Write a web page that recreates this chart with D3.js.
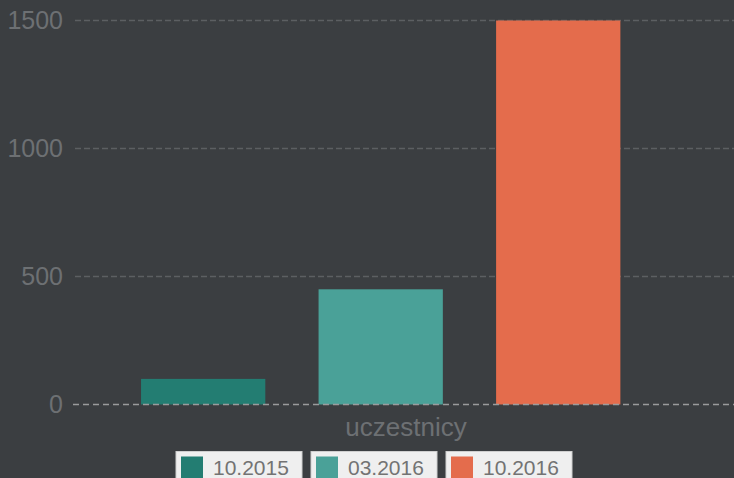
<!DOCTYPE html>
<html><head><meta charset="utf-8">
<script src="https://cdn.jsdelivr.net/npm/d3@7"></script>
<style>html,body{margin:0;padding:0;background:#3b3e41;overflow:hidden}</style>
</head><body>
<svg id="c" width="734" height="478"></svg>
<script>
const category = "uczestnicy";
const series = ["10.2015", "03.2016", "10.2016"];
const values = [100, 450, 1500];
const colors = ["#237d72", "#4aa198", "#e46c4c"];
const yTicks = [0, 500, 1000, 1500];

const svg = d3.select("#c");
svg.append("rect").attr("width", 734).attr("height", 478).attr("fill", "#3b3e41");

const y = d3.scaleLinear().domain([0, 1500]).range([404.5, 20.5]);
const x = d3.scaleBand().domain(series).range([114.4, 647]).paddingInner(0.3).paddingOuter(0.15);

// grid
const grid = svg.append("g");
yTicks.filter(d => d !== 0).forEach(t => {
  grid.append("line").attr("x1", 75).attr("x2", 734).attr("y1", y(t)).attr("y2", y(t))
    .attr("stroke", "#5c5f62").attr("stroke-width", 1.3).attr("stroke-dasharray", "6,3");
});

// y axis labels via d3 axis
const yAxis = svg.append("g").attr("transform", "translate(63,0)")
  .call(d3.axisLeft(y).tickValues(yTicks).tickSize(0).tickPadding(0).tickFormat(d3.format("d")));
yAxis.select(".domain").remove();
yAxis.selectAll("text").attr("fill", "#6d7073").attr("font-family", "Liberation Sans, Arial, sans-serif")
  .attr("font-size", 25).attr("dy", "0.32em").attr("text-anchor", "end");

// bars
svg.append("g").selectAll("rect").data(series).join("rect")
  .attr("x", d => x(d)).attr("width", x.bandwidth())
  .attr("y", (d, i) => y(values[i])).attr("height", (d, i) => y(0) - y(values[i]))
  .attr("fill", (d, i) => colors[i]);

// zero line
svg.append("line").attr("x1", 73).attr("x2", 734).attr("y1", y(0)).attr("y2", y(0))
  .attr("stroke", "#9a9b9c").attr("stroke-width", 1.5).attr("stroke-dasharray", "6,4");

// category label
svg.append("text").attr("x", 406).attr("y", 436).attr("text-anchor", "middle")
  .attr("font-family", "Liberation Sans, Arial, sans-serif").attr("font-size", 26)
  .attr("fill", "#6d7073").text(category);

// legend
const lx = [176, 311, 446];
const lg = svg.append("g").selectAll("g").data(series).join("g")
  .attr("transform", (d, i) => `translate(${lx[i]},451.5)`);
lg.append("rect").attr("width", 126).attr("height", 40).attr("fill", "#efefef")
  .attr("stroke", "#cfcfcf").attr("stroke-width", 1);
lg.append("rect").attr("x", 5).attr("y", 5).attr("width", 22).attr("height", 30)
  .attr("fill", (d, i) => colors[i]);
lg.append("text").attr("x", 37).attr("y", 23.5).attr("font-family", "Liberation Sans, Arial, sans-serif")
  .attr("font-size", 21).attr("fill", "#737373").text(d => d);
</script>
</body></html>
